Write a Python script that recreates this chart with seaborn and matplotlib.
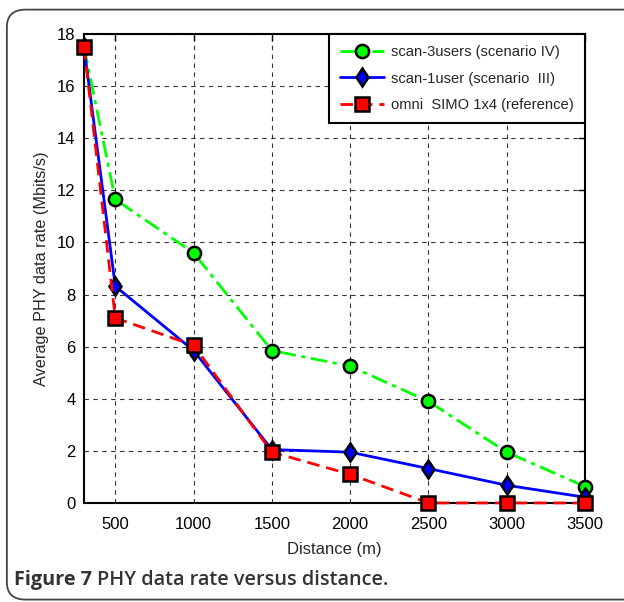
import numpy as np
import pandas as pd
import matplotlib
matplotlib.use("Agg")
import matplotlib.pyplot as plt
import seaborn as sns
from matplotlib.patches import FancyBboxPatch

##Data
distance = [300, 500, 1000, 1500, 2000, 2500, 3000, 3500]
scan_3users = [17.5, 11.65, 9.6, 5.85, 5.25, 3.9, 1.95, 0.63]
scan_1user = [17.5, 8.32, 5.85, 2.05, 1.95, 1.32, 0.68, 0.22]
omni_simo = [17.5, 7.1, 6.05, 1.95, 1.1, 0.0, 0.0, 0.0]

series_names = ["scan-3users (scenario IV)", "scan-1user (scenario  III)",
                "omni  SIMO 1x4 (reference)"]
x_ticks = [500, 1000, 1500, 2000, 2500, 3000, 3500]
y_ticks = [0, 2, 4, 6, 8, 10, 12, 14, 16, 18]

sns.set_style("white")
plt.rcParams['font.family'] = ['Liberation Sans', 'DejaVu Sans']

fig = plt.figure(figsize=(6.24, 6.02), dpi=100)
ax = fig.add_axes([0.1346, 0.1645, 0.8029, 0.779])

##Rounded frame round the whole figure (runs off the right edge)
frame = FancyBboxPatch((0.011, 0.004), 1.05, 0.98, boxstyle="round,pad=0,rounding_size=0.03",
                       transform=fig.transFigure, fill=False, edgecolor="#444444",
                       linewidth=1.3, mutation_aspect=602 / 624)
fig.patches.append(frame)

styles = [
    dict(color="#00ff00", linestyle=(0, (6, 2, 1.5, 2)), marker="o", markerfacecolor="#00ff00"),
    dict(color="#0000ff", linestyle="-", marker="d", markerfacecolor="#0000ff"),
    dict(color="#ff0000", linestyle=(0, (4.5, 2.5)), marker="s", markerfacecolor="#ff0000"),
]
for name, vals, st in zip(series_names, [scan_3users, scan_1user, omni_simo], styles):
    sns.lineplot(x=distance, y=vals, ax=ax, label=name, linewidth=2,
                 markersize=9.5, markeredgecolor="black", markeredgewidth=1.8,
                 clip_on=False, zorder=5, **st)

ax.set_xlim(300, 3500)
ax.set_ylim(0, 18)
ax.set_xticks(x_ticks)
ax.set_yticks(y_ticks)
ax.tick_params(direction="in", length=5, width=1, labelsize=12, colors="black",
               top=True, right=True, pad=6)
ax.tick_params(axis="x", pad=10)
ax.grid(True, color="black", linestyle=(0, (4, 4)), linewidth=0.8, alpha=0.8)
for sp in ax.spines.values():
    sp.set_linewidth(1.5)
    sp.set_color("black")
ax.set_xlabel("Distance (m)", fontsize=12, labelpad=7)
ax.set_ylabel("Average PHY data rate (Mbits/s)", fontsize=11.7, labelpad=6)

leg = ax.legend(loc="upper right", borderaxespad=0, fontsize=10.6, fancybox=False,
                framealpha=1, edgecolor="black", handlelength=3.0, labelspacing=0.85,
                borderpad=0.75, handletextpad=0.5)
leg.get_frame().set_linewidth(1.5)
leg.set_zorder(10)

##Caption below the plot: bold "Figure 7" then the title text
cap = fig.text(0.022, 0.028, "Figure 7", fontsize=14.3, fontweight="bold", color="#333333",
               family=["Open Sans", "DejaVu Sans"])
ax.annotate("PHY data rate versus distance.", xy=(1, 0), xycoords=cap,
            xytext=(4, 0), textcoords="offset points", ha="left", va="bottom",
            fontsize=14.3, fontweight="semibold", color="#333333",
            family=["Open Sans", "DejaVu Sans"], annotation_clip=False)

fig.savefig("out.png", dpi=100)
